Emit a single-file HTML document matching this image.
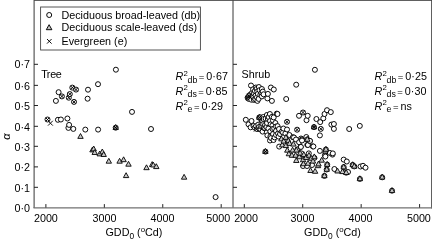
<!DOCTYPE html>
<html><head><meta charset="utf-8"><style>
html,body{margin:0;padding:0;background:#fff;width:432px;height:241px;overflow:hidden}
svg{display:block;will-change:transform}
</style></head><body>
<svg width="432" height="241" viewBox="0 0 432 241">
<defs><filter id="b" x="0" y="0" width="432" height="241" filterUnits="userSpaceOnUse"><feGaussianBlur stdDeviation="0.3"/></filter></defs>
<rect width="432" height="241" fill="#fff"/>
<g filter="url(#b)">
<g font-family="'Liberation Sans', sans-serif" font-size="10.75" fill="#000">
<text x="30" y="212.00" text-anchor="end">0·0</text>
<text x="30" y="191.65" text-anchor="end">0·1</text>
<text x="30" y="171.45" text-anchor="end">0·2</text>
<text x="30" y="150.95" text-anchor="end">0·3</text>
<text x="30" y="130.50" text-anchor="end">0·4</text>
<text x="30" y="110.45" text-anchor="end">0·5</text>
<text x="30" y="90.15" text-anchor="end">0·6</text>
<text x="30" y="67.80" text-anchor="end">0·7</text>
<text x="45.90" y="221.6" text-anchor="middle">2000</text>
<text x="104.45" y="221.6" text-anchor="middle">3000</text>
<text x="162.45" y="221.6" text-anchor="middle">4000</text>
<text x="218.30" y="221.6" text-anchor="middle">5000</text>
<text x="246.10" y="221.6" text-anchor="middle">2000</text>
<text x="302.45" y="221.6" text-anchor="middle">3000</text>
<text x="360.45" y="221.6" text-anchor="middle">4000</text>
<text x="418.90" y="221.6" text-anchor="middle">5000</text>
<text x="41.3" y="78">T<tspan dx="-0.7">r</tspan><tspan dx="-0.2">e</tspan><tspan dx="-0.3">e</tspan></text>
<text x="241.5" y="78.3">Shrub</text>
<text x="175.4" y="80.2"><tspan font-style="italic">R</tspan><tspan font-size="7.8" dy="-4.6" dx="0.3">2</tspan><tspan font-size="8.8" dy="6.9" dx="-0.2">db</tspan><tspan dy="-2.3" dx="1.4" font-size="9.5">=</tspan><tspan dx="2.0">0·67</tspan></text>
<text x="175.4" y="94.8"><tspan font-style="italic">R</tspan><tspan font-size="7.8" dy="-4.6" dx="0.3">2</tspan><tspan font-size="8.8" dy="6.9" dx="-0.2">ds</tspan><tspan dy="-2.3" dx="1.4" font-size="9.5">=</tspan><tspan dx="2.0">0·85</tspan></text>
<text x="175.4" y="109.6"><tspan font-style="italic">R</tspan><tspan font-size="7.8" dy="-4.6" dx="0.3">2</tspan><tspan font-size="8.8" dy="6.9" dx="-0.2">e</tspan><tspan dy="-2.3" dx="1.4" font-size="9.5">=</tspan><tspan dx="2.0">0·29</tspan></text>
<text x="374.4" y="80.2"><tspan font-style="italic">R</tspan><tspan font-size="7.8" dy="-4.6" dx="0.3">2</tspan><tspan font-size="8.8" dy="6.9" dx="-0.2">db</tspan><tspan dy="-2.3" dx="1.4" font-size="9.5">=</tspan><tspan dx="2.0">0·25</tspan></text>
<text x="374.4" y="94.8"><tspan font-style="italic">R</tspan><tspan font-size="7.8" dy="-4.6" dx="0.3">2</tspan><tspan font-size="8.8" dy="6.9" dx="-0.2">ds</tspan><tspan dy="-2.3" dx="1.4" font-size="9.5">=</tspan><tspan dx="2.0">0·30</tspan></text>
<text x="374.4" y="109.6"><tspan font-style="italic">R</tspan><tspan font-size="7.8" dy="-4.6" dx="0.3">2</tspan><tspan font-size="8.8" dy="6.9" dx="-0.2">e</tspan><tspan dy="-2.3" dx="1.4" font-size="9.5">=</tspan><tspan dx="2.0">ns</tspan></text>
<text x="105.5" y="235.6">GDD<tspan font-size="8.4" dy="3.0">0</tspan><tspan dy="-3.0"> (</tspan><tspan font-size="7.8" dy="-3.2">o</tspan><tspan dy="3.2">Cd)</tspan></text>
<text x="304.1" y="235.6">GDD<tspan font-size="8.4" dy="3.0">0</tspan><tspan dy="-3.0"> (</tspan><tspan font-size="7.8" dy="-3.2">o</tspan><tspan dy="3.2">Cd)</tspan></text>
<text x="61.5" y="18.5">Deciduous broad-leaved (db)</text>
<text x="61.5" y="31.4">Deciduous scale-leaved (ds)</text>
<text x="61.5" y="44.5">Evergreen (e)</text>
<text transform="translate(10.1 136.6) rotate(-90)" text-anchor="middle" font-style="italic" font-size="11">α</text>
</g>
<path fill="none" stroke="#444" stroke-width="0.9" d="M34 0.45H432M431.55 0V208.4"/>
<path fill="none" stroke="#4a4a4a" stroke-width="1.1" d="M34.1 0V207.9M233 0V207.9"/>
<path fill="none" stroke="#707070" stroke-width="1.2" d="M33.5 207.9H432"/>
<path fill="none" stroke="#222" stroke-width="1" d="M34 187.30h4M233 187.30h4M34 166.90h4M233 166.90h4M34 146.30h4M233 146.30h4M34 126.30h4M233 126.30h4M34 105.50h4M233 105.50h4M34 85.35h4M233 85.35h4M34 64.30h4M233 64.30h4M45.90 207.6v-3.5M244.30 207.6v-3.5M104.33 207.6v-3.5M302.73 207.6v-3.5M162.76 207.6v-3.5M361.16 207.6v-3.5M221.19 207.6v-3.5M419.59 207.6v-3.5"/>
<rect x="40.6" y="7" width="159.8" height="43" fill="none" stroke="#444" stroke-width="0.9"/>
<g>
<circle cx="49.2" cy="15" r="2.5" fill="#fff" stroke="#000" stroke-width="0.95"/>
<path d="M49.1 24.7L51.9 29.7L46.3 29.7Z" fill="#c4c4c4" stroke="#000" stroke-width="0.95" stroke-linejoin="round"/>
<path fill="none" stroke="#000" stroke-width="0.95" d="M47.00 39.00L51.60 43.60M51.60 39.00L47.00 43.60"/>
</g>
<g fill="#fff" stroke="#000" stroke-width="0.95">
<circle cx="47.5" cy="119.5" r="2.5"/>
<circle cx="55.9" cy="100.9" r="2.5"/>
<circle cx="57.9" cy="119.8" r="2.5"/>
<circle cx="58.6" cy="92.2" r="2.5"/>
<circle cx="60.9" cy="119.5" r="2.5"/>
<circle cx="61.9" cy="96.4" r="2.5"/>
<circle cx="67.4" cy="118.5" r="2.5"/>
<circle cx="68.4" cy="127.9" r="2.5"/>
<circle cx="68.8" cy="97.7" r="2.5"/>
<circle cx="69.1" cy="124.9" r="2.5"/>
<circle cx="69.8" cy="94.1" r="2.5"/>
<circle cx="72.3" cy="87.6" r="2.5"/>
<circle cx="73.3" cy="128.9" r="2.5"/>
<circle cx="74.0" cy="101.9" r="2.5"/>
<circle cx="76.0" cy="89.6" r="2.5"/>
<circle cx="85.3" cy="129.6" r="2.5"/>
<circle cx="87.6" cy="98.7" r="2.5"/>
<circle cx="88.0" cy="89.7" r="2.5"/>
<circle cx="98.0" cy="84.2" r="2.5"/>
<circle cx="98.1" cy="129.6" r="2.5"/>
<circle cx="115.7" cy="127.7" r="2.5"/>
<circle cx="115.9" cy="69.7" r="2.5"/>
<circle cx="132" cy="111.9" r="2.5"/>
<circle cx="151" cy="129" r="2.5"/>
<circle cx="215.6" cy="197.1" r="2.5"/>
</g>
<g fill="#c8c8c8" stroke="#000" stroke-width="0.9" stroke-linejoin="round">
<path d="M80.50 133.53L83.20 138.38L77.80 138.38Z"/>
<path d="M92.50 147.03L95.20 151.88L89.80 151.88Z"/>
<path d="M93.70 146.03L96.40 150.88L91.00 150.88Z"/>
<path d="M94.70 149.63L97.40 154.48L92.00 154.48Z"/>
<path d="M99.70 151.03L102.40 155.88L97.00 155.88Z"/>
<path d="M102.30 149.03L105.00 153.88L99.60 153.88Z"/>
<path d="M103.70 151.63L106.40 156.48L101.00 156.48Z"/>
<path d="M108.80 158.33L111.50 163.18L106.10 163.18Z"/>
<path d="M115.70 124.60L118.40 129.45L113.00 129.45Z"/>
<path d="M119.60 158.33L122.30 163.18L116.90 163.18Z"/>
<path d="M123.60 156.83L126.30 161.68L120.90 161.68Z"/>
<path d="M126.10 172.73L128.80 177.58L123.40 177.58Z"/>
<path d="M128.50 161.33L131.20 166.18L125.80 166.18Z"/>
<path d="M146.50 164.83L149.20 169.68L143.80 169.68Z"/>
<path d="M152.20 161.63L154.90 166.48L149.50 166.48Z"/>
<path d="M153.30 162.13L156.00 166.98L150.60 166.98Z"/>
<path d="M156.30 163.73L159.00 168.58L153.60 168.58Z"/>
<path d="M184.10 174.33L186.80 179.18L181.40 179.18Z"/>
</g>
<g fill="none" stroke="#000" stroke-width="0.95">
<path d="M48.00 120.80L52.80 125.60M52.80 120.80L48.00 125.60"/>
<path d="M60.15 94.65L63.65 98.15M63.65 94.65L60.15 98.15"/>
<path d="M70.55 85.85L74.05 89.35M74.05 85.85L70.55 89.35"/>
<path d="M74.25 87.85L77.75 91.35M77.75 87.85L74.25 91.35"/>
<path d="M68.05 92.35L71.55 95.85M71.55 92.35L68.05 95.85"/>
<path d="M67.05 95.95L70.55 99.45M70.55 95.95L67.05 99.45"/>
<path d="M72.25 100.15L75.75 103.65M75.75 100.15L72.25 103.65"/>
<path d="M45.75 117.75L49.25 121.25M49.25 117.75L45.75 121.25"/>
<path d="M113.95 125.95L117.45 129.45M117.45 125.95L113.95 129.45"/>
</g>
<g fill="#fff" stroke="#000" stroke-width="0.95">
<circle cx="245.8" cy="119.8" r="2.5"/>
<circle cx="247.6" cy="97.6" r="2.5"/>
<circle cx="248" cy="98.4" r="2.5"/>
<circle cx="248.4" cy="97" r="2.5"/>
<circle cx="248.5" cy="124.3" r="2.5"/>
<circle cx="248.9" cy="98.8" r="2.5"/>
<circle cx="249" cy="96.9" r="2.5"/>
<circle cx="249.3" cy="97.2" r="2.5"/>
<circle cx="249.4" cy="95.3" r="2.5"/>
<circle cx="250.5" cy="94.5" r="2.5"/>
<circle cx="250.6" cy="127.3" r="2.5"/>
<circle cx="251" cy="85.5" r="2.5"/>
<circle cx="251.3" cy="99.7" r="2.5"/>
<circle cx="251.5" cy="121" r="2.5"/>
<circle cx="252" cy="92.9" r="2.5"/>
<circle cx="252.6" cy="95.1" r="2.5"/>
<circle cx="253" cy="96.4" r="2.5"/>
<circle cx="253.1" cy="89.3" r="2.5"/>
<circle cx="253.5" cy="126" r="2.5"/>
<circle cx="253.9" cy="99.9" r="2.5"/>
<circle cx="254.1" cy="93.6" r="2.5"/>
<circle cx="254.8" cy="127.6" r="2.5"/>
<circle cx="254.9" cy="90.9" r="2.5"/>
<circle cx="255.3" cy="99.3" r="2.5"/>
<circle cx="255.6" cy="95.6" r="2.5"/>
<circle cx="255.9" cy="87.5" r="2.5"/>
<circle cx="256" cy="126.2" r="2.5"/>
<circle cx="256.6" cy="89.0" r="2.5"/>
<circle cx="256.9" cy="97.4" r="2.5"/>
<circle cx="257" cy="129" r="2.5"/>
<circle cx="257.3" cy="91.5" r="2.5"/>
<circle cx="257.4" cy="100.9" r="2.5"/>
<circle cx="257.9" cy="93.9" r="2.5"/>
<circle cx="258.3" cy="124.6" r="2.5"/>
<circle cx="258.6" cy="98.9" r="2.5"/>
<circle cx="258.9" cy="87" r="2.5"/>
<circle cx="259" cy="127" r="2.5"/>
<circle cx="259.3" cy="117.5" r="2.5"/>
<circle cx="259.5" cy="90.2" r="2.5"/>
<circle cx="259.6" cy="117.8" r="2.5"/>
<circle cx="260.3" cy="94.9" r="2.5"/>
<circle cx="260.3" cy="117.3" r="2.5"/>
<circle cx="260.5" cy="129.5" r="2.5"/>
<circle cx="261.2" cy="126.4" r="2.5"/>
<circle cx="261.4" cy="92.9" r="2.5"/>
<circle cx="261.5" cy="123" r="2.5"/>
<circle cx="261.9" cy="89" r="2.5"/>
<circle cx="261.9" cy="96.4" r="2.5"/>
<circle cx="262.4" cy="121" r="2.5"/>
<circle cx="262.6" cy="131.6" r="2.5"/>
<circle cx="262.8" cy="91.6" r="2.5"/>
<circle cx="263.2" cy="124.2" r="2.5"/>
<circle cx="263.4" cy="117" r="2.5"/>
<circle cx="263.5" cy="119" r="2.5"/>
<circle cx="263.6" cy="94.3" r="2.5"/>
<circle cx="264" cy="128" r="2.5"/>
<circle cx="265" cy="125" r="2.5"/>
<circle cx="265.4" cy="151.6" r="2.5"/>
<circle cx="265.7" cy="118.7" r="2.5"/>
<circle cx="266.3" cy="126.9" r="2.5"/>
<circle cx="266.8" cy="132.3" r="2.5"/>
<circle cx="266.9" cy="115" r="2.5"/>
<circle cx="267" cy="123" r="2.5"/>
<circle cx="267.4" cy="98.4" r="2.5"/>
<circle cx="267.4" cy="135.4" r="2.5"/>
<circle cx="267.9" cy="93.9" r="2.5"/>
<circle cx="267.9" cy="119" r="2.5"/>
<circle cx="268.4" cy="128.5" r="2.5"/>
<circle cx="268.6" cy="117.0" r="2.5"/>
<circle cx="269.9" cy="114" r="2.5"/>
<circle cx="270" cy="121" r="2.5"/>
<circle cx="270" cy="140.5" r="2.5"/>
<circle cx="270.3" cy="131.3" r="2.5"/>
<circle cx="270.4" cy="136.4" r="2.5"/>
<circle cx="270.6" cy="124.4" r="2.5"/>
<circle cx="270.9" cy="87.5" r="2.5"/>
<circle cx="271" cy="138" r="2.5"/>
<circle cx="271.9" cy="100.9" r="2.5"/>
<circle cx="271.9" cy="116.9" r="2.5"/>
<circle cx="272.4" cy="125.5" r="2.5"/>
<circle cx="272.5" cy="129" r="2.5"/>
<circle cx="273" cy="120.5" r="2.5"/>
<circle cx="273" cy="134" r="2.5"/>
<circle cx="273.5" cy="140" r="2.5"/>
<circle cx="273.7" cy="117.4" r="2.5"/>
<circle cx="273.8" cy="89.5" r="2.5"/>
<circle cx="274.2" cy="128.4" r="2.5"/>
<circle cx="274.6" cy="137.4" r="2.5"/>
<circle cx="275.4" cy="123" r="2.5"/>
<circle cx="276" cy="126.5" r="2.5"/>
<circle cx="276" cy="131" r="2.5"/>
<circle cx="276" cy="135" r="2.5"/>
<circle cx="276.8" cy="113.6" r="2.5"/>
<circle cx="277.5" cy="114" r="2.5"/>
<circle cx="277.6" cy="126.2" r="2.5"/>
<circle cx="278" cy="133.5" r="2.5"/>
<circle cx="278.6" cy="136.6" r="2.5"/>
<circle cx="279" cy="129" r="2.5"/>
<circle cx="279.2" cy="146.6" r="2.5"/>
<circle cx="280" cy="134" r="2.5"/>
<circle cx="281.8" cy="131.6" r="2.5"/>
<circle cx="283" cy="132.5" r="2.5"/>
<circle cx="283.4" cy="128.5" r="2.5"/>
<circle cx="285.4" cy="133.5" r="2.5"/>
<circle cx="286.2" cy="99" r="2.5"/>
<circle cx="287" cy="121.8" r="2.5"/>
<circle cx="287" cy="129.5" r="2.5"/>
<circle cx="287.4" cy="140.5" r="2.5"/>
<circle cx="289.4" cy="135" r="2.5"/>
<circle cx="292.9" cy="137.2" r="2.5"/>
<circle cx="294" cy="137.5" r="2.5"/>
<circle cx="296" cy="139.5" r="2.5"/>
<circle cx="296.2" cy="84.7" r="2.5"/>
<circle cx="297.1" cy="129.7" r="2.5"/>
<circle cx="297.4" cy="149.4" r="2.5"/>
<circle cx="299" cy="115.8" r="2.5"/>
<circle cx="299.1" cy="142.2" r="2.5"/>
<circle cx="300.5" cy="147" r="2.5"/>
<circle cx="300.9" cy="146.9" r="2.5"/>
<circle cx="301" cy="138.5" r="2.5"/>
<circle cx="301.4" cy="153.4" r="2.5"/>
<circle cx="301.9" cy="139.5" r="2.5"/>
<circle cx="302" cy="140.5" r="2.5"/>
<circle cx="303" cy="112.5" r="2.5"/>
<circle cx="303" cy="166" r="2.5"/>
<circle cx="306.3" cy="137" r="2.5"/>
<circle cx="306.5" cy="120.2" r="2.5"/>
<circle cx="307" cy="166" r="2.5"/>
<circle cx="307.3" cy="139.5" r="2.5"/>
<circle cx="307.3" cy="144.9" r="2.5"/>
<circle cx="307.7" cy="115.8" r="2.5"/>
<circle cx="307.9" cy="145" r="2.5"/>
<circle cx="308.8" cy="153.4" r="2.5"/>
<circle cx="309.8" cy="141" r="2.5"/>
<circle cx="310" cy="140.9" r="2.5"/>
<circle cx="312" cy="165" r="2.5"/>
<circle cx="312.8" cy="146.4" r="2.5"/>
<circle cx="313.4" cy="146.5" r="2.5"/>
<circle cx="314" cy="127.1" r="2.5"/>
<circle cx="314.4" cy="157.9" r="2.5"/>
<circle cx="314.9" cy="69.8" r="2.5"/>
<circle cx="316.4" cy="119" r="2.5"/>
<circle cx="319.9" cy="135.4" r="2.5"/>
<circle cx="319.9" cy="150.9" r="2.5"/>
<circle cx="320.2" cy="122.1" r="2.5"/>
<circle cx="320.8" cy="128.9" r="2.5"/>
<circle cx="323.3" cy="118.3" r="2.5"/>
<circle cx="324.4" cy="175.9" r="2.5"/>
<circle cx="324.5" cy="114" r="2.5"/>
<circle cx="324.9" cy="155.4" r="2.5"/>
<circle cx="325.4" cy="156.5" r="2.5"/>
<circle cx="325.9" cy="149.5" r="2.5"/>
<circle cx="326.7" cy="169.5" r="2.5"/>
<circle cx="327" cy="110.2" r="2.5"/>
<circle cx="327.2" cy="164.6" r="2.5"/>
<circle cx="329.8" cy="152.9" r="2.5"/>
<circle cx="330.8" cy="112.1" r="2.5"/>
<circle cx="331.4" cy="124.6" r="2.5"/>
<circle cx="332.5" cy="154.6" r="2.5"/>
<circle cx="332.8" cy="153.4" r="2.5"/>
<circle cx="333.9" cy="124" r="2.5"/>
<circle cx="333.9" cy="128.9" r="2.5"/>
<circle cx="334.4" cy="169" r="2.5"/>
<circle cx="343.7" cy="159.6" r="2.5"/>
<circle cx="343.7" cy="167.1" r="2.5"/>
<circle cx="346.2" cy="172.7" r="2.5"/>
<circle cx="346.8" cy="161.5" r="2.5"/>
<circle cx="348" cy="172" r="2.5"/>
<circle cx="349.2" cy="129" r="2.5"/>
<circle cx="352.7" cy="164.9" r="2.5"/>
<circle cx="354.3" cy="166.4" r="2.5"/>
<circle cx="359.8" cy="125.9" r="2.5"/>
<circle cx="359.9" cy="178.9" r="2.5"/>
<circle cx="360.5" cy="166.5" r="2.5"/>
<circle cx="363" cy="165.8" r="2.5"/>
<circle cx="365.5" cy="167.7" r="2.5"/>
<circle cx="382.2" cy="177.3" r="2.5"/>
<circle cx="392" cy="190.7" r="2.5"/>
</g>
<g fill="#c8c8c8" stroke="#000" stroke-width="0.9" stroke-linejoin="round">
<path d="M259.30 114.40L262.00 119.25L256.60 119.25Z"/>
<path d="M265.40 148.50L268.10 153.35L262.70 153.35Z"/>
<path d="M281.40 136.03L284.10 140.88L278.70 140.88Z"/>
<path d="M282.20 142.03L284.90 146.88L279.50 146.88Z"/>
<path d="M283.70 138.23L286.40 143.08L281.00 143.08Z"/>
<path d="M285.90 134.53L288.60 139.38L283.20 139.38Z"/>
<path d="M285.90 142.73L288.60 147.58L283.20 147.58Z"/>
<path d="M287.30 147.33L290.00 152.18L284.60 152.18Z"/>
<path d="M288.30 137.83L291.00 142.68L285.60 142.68Z"/>
<path d="M288.90 150.93L291.60 155.78L286.20 155.78Z"/>
<path d="M289.60 140.53L292.30 145.38L286.90 145.38Z"/>
<path d="M291.90 152.43L294.60 157.28L289.20 157.28Z"/>
<path d="M292.60 147.23L295.30 152.08L289.90 152.08Z"/>
<path d="M293.40 141.23L296.10 146.08L290.70 146.08Z"/>
<path d="M295.60 152.43L298.30 157.28L292.90 157.28Z"/>
<path d="M296.30 157.63L299.00 162.48L293.60 162.48Z"/>
<path d="M296.40 147.23L299.10 152.08L293.70 152.08Z"/>
<path d="M299.30 153.93L302.00 158.78L296.60 158.78Z"/>
<path d="M300.10 150.23L302.80 155.08L297.40 155.08Z"/>
<path d="M303.10 156.93L305.80 161.78L300.40 161.78Z"/>
<path d="M303.40 160.93L306.10 165.78L300.70 165.78Z"/>
<path d="M303.80 151.73L306.50 156.58L301.10 156.58Z"/>
<path d="M306.10 154.63L308.80 159.48L303.40 159.48Z"/>
<path d="M307.30 136.40L310.00 141.25L304.60 141.25Z"/>
<path d="M308.00 160.43L310.70 165.28L305.30 165.28Z"/>
<path d="M309.00 152.43L311.70 157.28L306.30 157.28Z"/>
<path d="M310.50 167.63L313.20 172.48L307.80 172.48Z"/>
<path d="M311.30 155.43L314.00 160.28L308.60 160.28Z"/>
<path d="M313.00 158.23L315.70 163.08L310.30 163.08Z"/>
<path d="M314.00 124.00L316.70 128.85L311.30 128.85Z"/>
<path d="M314.30 153.93L317.00 158.78L311.60 158.78Z"/>
<path d="M315.10 168.43L317.80 173.28L312.40 173.28Z"/>
<path d="M318.00 162.83L320.70 167.68L315.30 167.68Z"/>
<path d="M318.50 161.03L321.20 165.88L315.80 165.88Z"/>
<path d="M321.70 157.33L324.40 162.18L319.00 162.18Z"/>
<path d="M324.40 172.80L327.10 177.65L321.70 177.65Z"/>
<path d="M325.30 148.23L328.00 153.08L322.60 153.08Z"/>
<path d="M325.90 146.40L328.60 151.25L323.20 151.25Z"/>
<path d="M326.70 166.40L329.40 171.25L324.00 171.25Z"/>
<path d="M327.20 161.50L329.90 166.35L324.50 166.35Z"/>
<path d="M337.50 168.13L340.20 172.98L334.80 172.98Z"/>
<path d="M342.50 168.73L345.20 173.58L339.80 173.58Z"/>
<path d="M343.70 164.00L346.40 168.85L341.00 168.85Z"/>
<path d="M346.20 169.60L348.90 174.45L343.50 174.45Z"/>
<path d="M352.70 161.80L355.40 166.65L350.00 166.65Z"/>
<path d="M354.30 163.30L357.00 168.15L351.60 168.15Z"/>
<path d="M359.90 175.80L362.60 180.65L357.20 180.65Z"/>
<path d="M382.20 174.20L384.90 179.05L379.50 179.05Z"/>
<path d="M392.00 187.60L394.70 192.45L389.30 192.45Z"/>
</g>
<g fill="none" stroke="#000" stroke-width="0.95">
<path d="M247.80 95.00L252.60 99.80M252.60 95.00L247.80 99.80"/>
<path d="M253.90 126.80L258.70 131.60M258.70 126.80L253.90 131.60"/>
<path d="M259.60 126.20L264.40 131.00M264.40 126.20L259.60 131.00"/>
<path d="M246.60 93.80L251.40 98.60M251.40 93.80L246.60 98.60"/>
<path d="M257.55 115.75L261.05 119.25M261.05 115.75L257.55 119.25"/>
<path d="M285.25 120.05L288.75 123.55M288.75 120.05L285.25 123.55"/>
<path d="M263.65 149.85L267.15 153.35M267.15 149.85L263.65 153.35"/>
<path d="M301.25 110.75L304.75 114.25M304.75 110.75L301.25 114.25"/>
<path d="M319.05 127.15L322.55 130.65M322.55 127.15L319.05 130.65"/>
<path d="M295.35 127.95L298.85 131.45M298.85 127.95L295.35 131.45"/>
<path d="M312.25 125.35L315.75 128.85M315.75 125.35L312.25 128.85"/>
</g>
</g>
</svg>
</body></html>
